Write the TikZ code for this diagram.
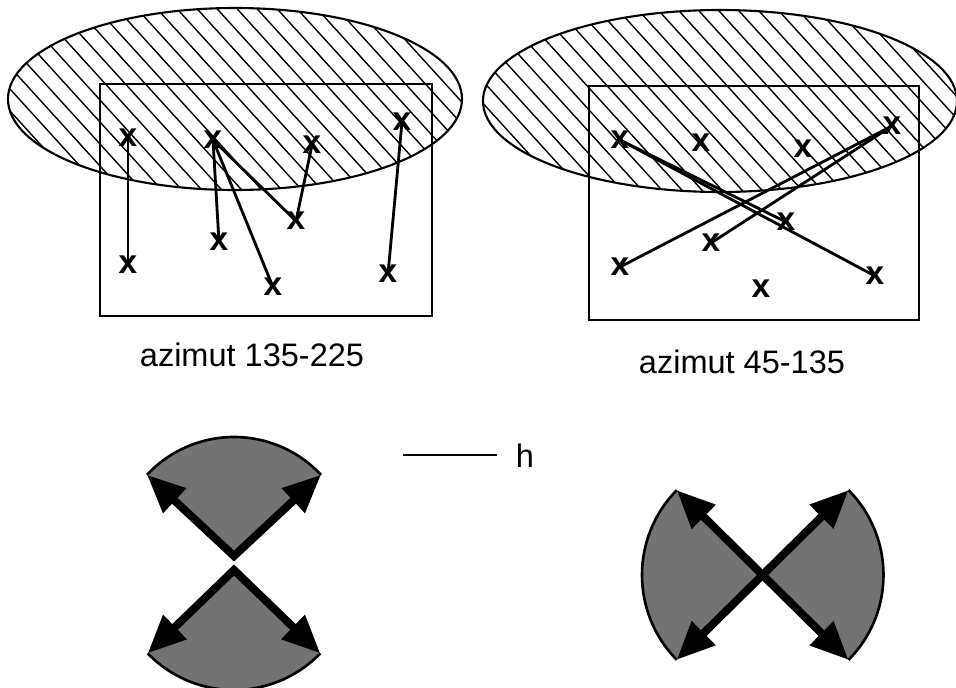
\documentclass[tikz,border=0pt]{standalone}
\usepackage{fontspec}
\setmainfont{Liberation Sans}
\usetikzlibrary{arrows.meta}
\begin{document}
\begin{tikzpicture}[x=0.2mm,y=-0.2mm,
  xmark/.style={inner sep=0pt, font=\fontsize{19}{20}\selectfont\bfseries},
  link/.style={line width=1.6pt},
  frame/.style={line width=1.2pt},
  hatch/.style={line width=0.8pt},
  sector/.style={fill=black!55},
  rim/.style={line width=1.5pt},
  dblarrow/.style={line width=1.6mm, line join=miter,
    {Triangle[length=7.6mm,width=6.4mm]}-{Triangle[length=7.6mm,width=6.4mm]}},
  lbl/.style={inner sep=0pt, anchor=base, font=\fontsize{18.5}{20}\selectfont}
]
\useasboundingbox (0,0) rectangle (956,688);

% ---------- left panel ----------
\begin{scope}
  \clip (235,99) ellipse [x radius=45.4mm, y radius=18.2mm];
  \foreach \k in {-12,...,30} \draw[hatch] (\k*20,-10) -- ++(200,220);
\end{scope}
\draw[frame] (235,99) ellipse [x radius=45.4mm, y radius=18.2mm];
\draw[frame] (100,84) rectangle (432,316);

\node[xmark] (A) at (128,138) {x};
\node[xmark] (B) at (128,265) {x};
\node[xmark] (C) at (213,140) {x};
\node[xmark] (D) at (219,242) {x};
\node[xmark] (E) at (273,287) {x};
\node[xmark] (F) at (296,221) {x};
\node[xmark] (G) at (312,145) {x};
\node[xmark] (H) at (402,122) {x};
\node[xmark] (I) at (388,274) {x};
\draw[link] (A.center) -- (B.center);
\draw[link] (C.center) -- (D.center);
\draw[link] (C.center) -- (E.center);
\draw[link] (C.center) -- (F.center);
\draw[link] (F.center) -- (G.center);
\draw[link] (H.center) -- (I.center);

\node[lbl] (capL) at (252,367) {azimut 135-225};

% ---------- right panel ----------
\begin{scope}
  \clip (720,101) ellipse [x radius=47.4mm, y radius=18.2mm];
  \foreach \k in {10,...,52} \draw[hatch] (\k*20,-10) -- ++(200,220);
\end{scope}
\draw[frame] (720,101) ellipse [x radius=47.4mm, y radius=18.2mm];
\draw[frame] (589,86) rectangle (919,320);

\node[xmark] (a) at (620,140) {x};
\node[xmark] (b) at (701,143) {x};
\node[xmark] (c) at (803,149) {x};
\node[xmark] (d) at (892,126) {x};
\node[xmark] (e) at (786,222) {x};
\node[xmark] (f) at (711,243) {x};
\node[xmark] (g) at (620,267) {x};
\node[xmark] (h) at (761,289) {x};
\node[xmark] (i) at (875,276) {x};
\draw[link] (a.center) -- (e.center);
\draw[link] (a.center) -- (i.center);
\draw[link] (d.center) -- (g.center);
\draw[link] (d.center) -- (f.center);

\node[lbl] (capR) at (742,373) {azimut 45-135};

% ---------- legend ----------
\coordinate (hL) at (403,455);
\coordinate (hR) at (497,455);
\draw[line width=1.2pt] (hL) -- (hR);
\node[lbl] (hlab) at (525,467) {h};

% ---------- bottom left figure ----------
\coordinate (O1) at (234,556);
\coordinate (O2) at (234,570);
\path (O1) ++(43:23.8mm) coordinate (T1R);
\path (O1) ++(137:23.8mm) coordinate (T1L);
\path (O2) ++(224:24mm) coordinate (B1L);
\path (O2) ++(316:24mm) coordinate (B1R);
\fill[sector] (O1) -- (T1R) arc[start angle=43, end angle=137, radius=23.8mm] -- cycle;
\fill[sector] (O2) -- (B1L) arc[start angle=224, end angle=316, radius=24mm] -- cycle;
\draw[rim] (T1R) arc[start angle=43, end angle=137, radius=23.8mm];
\draw[rim] (B1L) arc[start angle=224, end angle=316, radius=24mm];
\draw[dblarrow] (T1L) -- (O1) -- (T1R);
\draw[dblarrow] (B1L) -- (O2) -- (B1R);

% ---------- bottom right figure ----------
\coordinate (O3) at (763,575);
\path (O3) ++(135.5:24.2mm) coordinate (LT);
\path (O3) ++(224.5:24.2mm) coordinate (LB);
\path (O3) ++(44.8:24.1mm) coordinate (RT);
\path (O3) ++(-44.8:24.1mm) coordinate (RB);
\fill[sector] (O3) -- (LT) arc[start angle=135.5, end angle=224.5, radius=24.2mm] -- cycle;
\fill[sector] (O3) -- (RB) arc[start angle=-44.8, end angle=44.8, radius=24.1mm] -- cycle;
\draw[rim] (LT) arc[start angle=135.5, end angle=224.5, radius=24.2mm];
\draw[rim] (RB) arc[start angle=-44.8, end angle=44.8, radius=24.1mm];
\draw[dblarrow] (LT) -- (RB);
\draw[dblarrow] (RT) -- (LB);
\end{tikzpicture}
\end{document}
